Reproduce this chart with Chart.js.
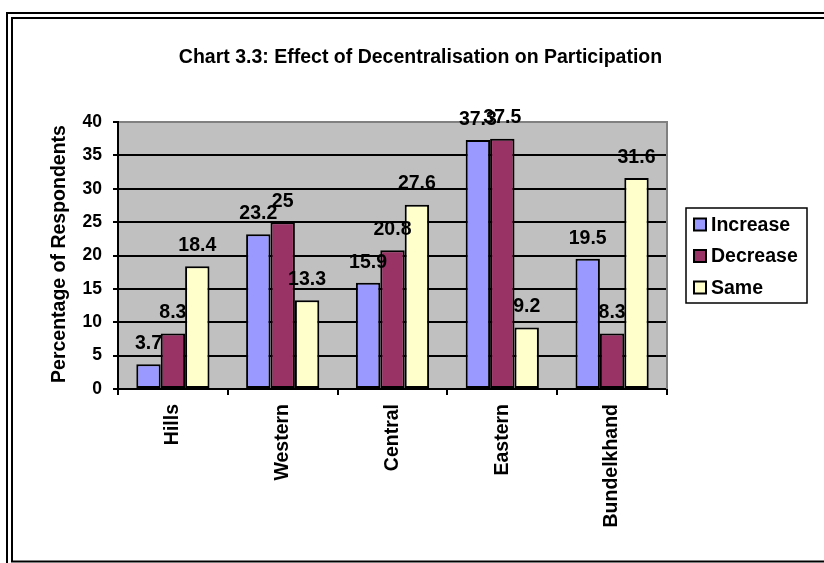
<!DOCTYPE html>
<html>
<head>
<meta charset="utf-8">
<title>Effect of Decentralisation on Participation</title>
<script src="https://cdn.jsdelivr.net/npm/chart.js@4"></script>
<style>
  html, body { margin: 0; padding: 0; background: #fff; }
  canvas { display: block; }
</style>
</head>
<body>
<canvas id="chart" width="824" height="563" style="width:824px;height:563px"></canvas>
<script>
// Regions and survey shares (% of respondents)
const categories = ['Hills', 'Western', 'Central', 'Eastern', 'Bundelkhand'];
const increase = [3.7, 23.2, 15.9, 37.3, 19.5];
const decrease = [8.3, 25, 20.8, 37.5, 8.3];
const same = [18.4, 13.3, 27.6, 9.2, 31.6];
const seriesNames = ['Increase', 'Decrease', 'Same'];
const yMin = 0;
const yMax = 40;
const yStep = 5;
const chartTitle = 'Chart 3.3: Effect of Decentralisation on Participation';
const yTitle = 'Percentage of Respondents';

const FONT = "'Liberation Sans', Arial, Helvetica, sans-serif";
const TEXT_SIZE = 19.5;
Chart.defaults.font.family = FONT;
Chart.defaults.color = '#000';

// White page, double frame and grey plot background
const framePlugin = {
  id: 'framePlugin',
  beforeDraw(chart) {
    const ctx = chart.ctx;
    const a = chart.chartArea;
    ctx.save();
    ctx.fillStyle = '#fff';
    ctx.fillRect(0, 0, chart.width, chart.height);
    ctx.strokeStyle = '#000';
    ctx.lineWidth = 2;
    ctx.strokeRect(7, 13, 1000, 1000);
    ctx.strokeRect(12, 18, 1000, 543.5);
    ctx.fillStyle = '#C0C0C0';
    ctx.fillRect(a.left, a.top, a.right - a.left, a.bottom - a.top);
    ctx.restore();
  },
  beforeDatasetsDraw(chart) {
    const ctx = chart.ctx;
    const a = chart.chartArea;
    ctx.save();
    ctx.strokeStyle = '#808080';
    ctx.lineWidth = 2;
    ctx.beginPath();
    ctx.moveTo(a.right, a.top - 1);
    ctx.lineTo(a.right, a.bottom);
    ctx.stroke();
    ctx.restore();
  }
};

// Value labels above each bar
const valueLabels = {
  id: 'valueLabels',
  afterDatasetsDraw(chart) {
    const ctx = chart.ctx;
    ctx.save();
    ctx.font = 'bold ' + TEXT_SIZE + 'px ' + FONT;
    ctx.fillStyle = '#000';
    ctx.textAlign = 'center';
    ctx.textBaseline = 'alphabetic';
    chart.data.datasets.forEach((ds, i) => {
      const meta = chart.getDatasetMeta(i);
      meta.data.forEach((bar, j) => {
        ctx.fillText(String(ds.data[j]), bar.x, bar.y - 15.3);
      });
    });
    ctx.restore();
  }
};

// Title, vertical axis title and boxed legend
const textPlugin = {
  id: 'textPlugin',
  afterDraw(chart) {
    const ctx = chart.ctx;
    ctx.save();
    ctx.fillStyle = '#000';
    ctx.font = 'bold ' + TEXT_SIZE + 'px ' + FONT;
    ctx.textAlign = 'center';
    ctx.textBaseline = 'alphabetic';
    ctx.fillText(chartTitle, 420.5, 63);

    ctx.save();
    ctx.translate(65, 254);
    ctx.rotate(-Math.PI / 2);
    ctx.fillText(yTitle, 0, 0);
    ctx.restore();

    // legend
    ctx.strokeStyle = '#000';
    ctx.lineWidth = 1.5;
    ctx.strokeRect(686, 208, 121, 95);
    ctx.textAlign = 'left';
    ctx.textBaseline = 'middle';
    const rows = [224.5, 256, 287.5];
    chart.data.datasets.forEach((ds, i) => {
      const cy = rows[i];
      ctx.fillStyle = ds.backgroundColor;
      ctx.fillRect(694, cy - 6, 12, 12);
      ctx.lineWidth = 2;
      ctx.strokeStyle = '#000';
      ctx.strokeRect(694, cy - 6, 12, 12);
      ctx.fillStyle = '#000';
      ctx.fillText(ds.label, 711, cy + 1);
    });
    ctx.restore();
  }
};

const barStyle = { borderColor: '#000', borderWidth: 2, borderSkipped: false };

new Chart(document.getElementById('chart'), {
  type: 'bar',
  data: {
    labels: categories,
    datasets: [
      Object.assign({ label: seriesNames[0], data: increase, backgroundColor: '#9999FF' }, barStyle),
      Object.assign({ label: seriesNames[1], data: decrease, backgroundColor: '#993366' }, barStyle),
      Object.assign({ label: seriesNames[2], data: same, backgroundColor: '#FFFFCC' }, barStyle)
    ]
  },
  options: {
    responsive: false,
    animation: false,
    devicePixelRatio: 1,
    layout: { padding: { top: 122, right: 157, bottom: 0, left: 0 } },
    datasets: { bar: { categoryPercentage: 3 / 4.5, barPercentage: 1 } },
    plugins: {
      legend: { display: false },
      title: { display: false },
      tooltip: { enabled: false }
    },
    scales: {
      x: {
        afterFit(scale) { scale.height = 174; },
        grid: {
          offset: true,
          drawOnChartArea: false,
          drawTicks: true,
          tickLength: 6,
          color: '#000',
          lineWidth: 2
        },
        border: { display: true, color: '#000', width: 2 },
        ticks: {
          minRotation: 90,
          maxRotation: 90,
          padding: 9,
          color: '#000',
          font: { size: TEXT_SIZE, weight: 'bold' }
        }
      },
      y: {
        min: yMin,
        max: yMax,
        afterFit(scale) { scale.width = 118; },
        grid: {
          color: (ctx) => (ctx.tick && ctx.tick.value === yMax ? '#808080' : '#000'),
          tickColor: '#000',
          lineWidth: 2,
          tickLength: 5
        },
        border: { display: true, color: '#000', width: 2 },
        ticks: {
          stepSize: yStep,
          padding: 11,
          color: '#000',
          font: { size: 17.5, weight: 'bold' }
        }
      }
    }
  },
  plugins: [framePlugin, valueLabels, textPlugin]
});
</script>
</body>
</html>
